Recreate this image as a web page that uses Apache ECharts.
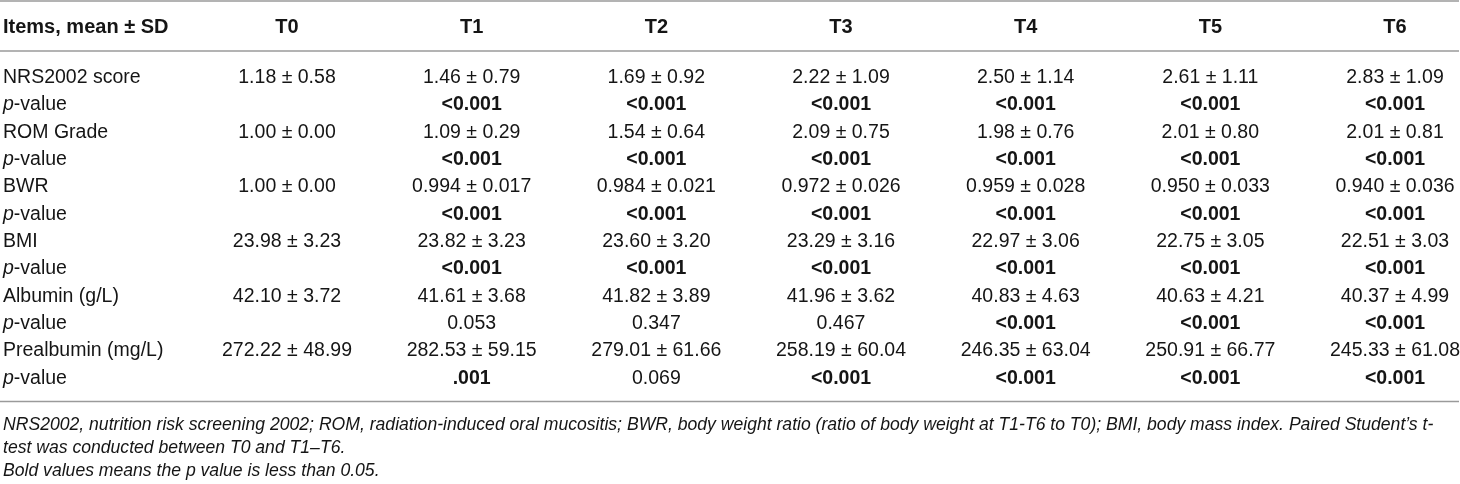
<!DOCTYPE html>
<html lang="en">
<head>
    <meta charset="utf-8" />
    <title>Nutrition indicators T0-T6</title>
    <script src="https://cdn.jsdelivr.net/npm/echarts@6/dist/echarts.min.js"></script>
    <style>
        html, body { margin: 0; padding: 0; background: #fff; }
        #main { width: 1460px; height: 484px; }
    </style>
</head>
<body>
<div id="main"></div>
<script type="text/javascript">
    // column headers and row labels
    var timePoints = ['T0', 'T1', 'T2', 'T3', 'T4', 'T5', 'T6'];
    var items = ['NRS2002 score', 'ROM Grade', 'BWR', 'BMI', 'Albumin (g/L)', 'Prealbumin (mg/L)'];

    // mean and SD per time point, as printed
    var nrsMean = ['1.18', '1.46', '1.69', '2.22', '2.50', '2.61', '2.83'];
    var nrsSd   = ['0.58', '0.79', '0.92', '1.09', '1.14', '1.11', '1.09'];
    var romMean = ['1.00', '1.09', '1.54', '2.09', '1.98', '2.01', '2.01'];
    var romSd   = ['0.00', '0.29', '0.64', '0.75', '0.76', '0.80', '0.81'];
    var bwrMean = ['1.00', '0.994', '0.984', '0.972', '0.959', '0.950', '0.940'];
    var bwrSd   = ['0.00', '0.017', '0.021', '0.026', '0.028', '0.033', '0.036'];
    var bmiMean = ['23.98', '23.82', '23.60', '23.29', '22.97', '22.75', '22.51'];
    var bmiSd   = ['3.23', '3.23', '3.20', '3.16', '3.06', '3.05', '3.03'];
    var albMean = ['42.10', '41.61', '41.82', '41.96', '40.83', '40.63', '40.37'];
    var albSd   = ['3.72', '3.68', '3.89', '3.62', '4.63', '4.21', '4.99'];
    var preMean = ['272.22', '282.53', '279.01', '258.19', '246.35', '250.91', '245.33'];
    var preSd   = ['48.99', '59.15', '61.66', '60.04', '63.04', '66.77', '61.08'];

    // p-values vs T0 (none for T0 itself)
    var nrsP = [null, '<0.001', '<0.001', '<0.001', '<0.001', '<0.001', '<0.001'];
    var romP = [null, '<0.001', '<0.001', '<0.001', '<0.001', '<0.001', '<0.001'];
    var bwrP = [null, '<0.001', '<0.001', '<0.001', '<0.001', '<0.001', '<0.001'];
    var bmiP = [null, '<0.001', '<0.001', '<0.001', '<0.001', '<0.001', '<0.001'];
    var albP = [null, '0.053', '0.347', '0.467', '<0.001', '<0.001', '<0.001'];
    var preP = [null, '.001', '0.069', '<0.001', '<0.001', '<0.001', '<0.001'];

    var footNotes = [
        'NRS2002, nutrition risk screening 2002; ROM, radiation-induced oral mucositis; BWR, body weight ratio (ratio of body weight at T1-T6 to T0); BMI, body mass index. Paired Student\u2019s t-',
        'test was conducted between T0 and T1\u2013T6.',
        'Bold values means the p value is less than 0.05.'
    ];

    var FONT = 'Liberation Sans, Arial, Helvetica, sans-serif';
    var INK = '#151515';
    var RULE = '#9a9a9a';
    var FS = 19.5;

    var means = [nrsMean, romMean, bwrMean, bmiMean, albMean, preMean];
    var sds = [nrsSd, romSd, bwrSd, bmiSd, albSd, preSd];
    var pvals = [nrsP, romP, bwrP, bmiP, albP, preP];

    // table rows: each item followed by its p-value row
    var rowNames = [];
    var cells = [];
    for (var r = 0; r < items.length; r++) {
        rowNames.push(items[r]);
        rowNames.push('p-value');
        for (var c = 0; c < timePoints.length; c++) {
            cells.push({ value: [c, r * 2], text: means[r][c] + ' \u00b1 ' + sds[r][c], bold: false });
            var p = pvals[r][c];
            if (p !== null) {
                var sig = p.charAt(0) === '<' || parseFloat(p) < 0.05;
                cells.push({ value: [c, r * 2 + 1], text: p, bold: sig });
            }
        }
    }

    var myChart = echarts.init(document.getElementById('main'));
    var option = {
        backgroundColor: '#fff',
        animation: false,
        title: [
            {
                text: 'Items, mean \u00b1 SD',
                left: 3,
                top: 17,
                padding: 0,
                textStyle: { fontFamily: FONT, fontSize: 20, fontWeight: 'bold', color: INK, lineHeight: 20 }
            },
            {
                text: footNotes.join('\n'),
                left: 3,
                top: 414,
                padding: 0,
                textStyle: { fontFamily: FONT, fontSize: 17.6, fontStyle: 'italic', fontWeight: 'normal', color: INK, lineHeight: 23 }
            }
        ],
        grid: { left: 287, right: 65, top: 64, bottom: 92 },
        xAxis: {
            type: 'category',
            position: 'top',
            boundaryGap: false,
            data: timePoints,
            axisLine: { show: false },
            axisTick: { show: false },
            splitLine: { show: false },
            axisLabel: {
                margin: 37,
                verticalAlign: 'middle',
                fontFamily: FONT,
                fontSize: 20,
                fontWeight: 'bold',
                color: INK
            }
        },
        yAxis: {
            type: 'category',
            inverse: true,
            data: rowNames,
            axisLine: { show: false },
            axisTick: { show: false },
            splitLine: { show: false },
            axisLabel: {
                align: 'left',
                margin: 284,
                fontFamily: FONT,
                fontSize: FS,
                color: INK,
                formatter: function (v) {
                    if (v === 'p-value') return '{i|p}-value';
                    return v;
                },
                rich: {
                    i: { fontFamily: FONT, fontSize: FS, fontStyle: 'italic', color: INK }
                }
            }
        },
        series: [
            {
                type: 'scatter',
                symbolSize: 0,
                itemStyle: { color: INK, opacity: 1 },
                emphasis: { disabled: true },
                data: cells,
                label: {
                    show: true,
                    position: 'inside',
                    fontFamily: FONT,
                    fontSize: FS,
                    color: INK,
                    opacity: 1,
                    formatter: function (p) {
                        return p.data.bold ? '{b|' + p.data.text + '}' : '{n|' + p.data.text + '}';
                    },
                    rich: {
                        n: { fontFamily: FONT, fontSize: FS, fontWeight: 'normal', color: INK },
                        b: { fontFamily: FONT, fontSize: FS, fontWeight: 'bold', color: INK }
                    }
                }
            }
        ],
        // table rules
        graphic: [
            { type: 'line', shape: { x1: 0, y1: 1, x2: 1459, y2: 1 }, style: { stroke: RULE, lineWidth: 1.5 } },
            { type: 'line', shape: { x1: 0, y1: 51, x2: 1459, y2: 51 }, style: { stroke: RULE, lineWidth: 1.5 } },
            { type: 'line', shape: { x1: 0, y1: 401.5, x2: 1459, y2: 401.5 }, style: { stroke: RULE, lineWidth: 1.5 } }
        ]
    };
    myChart.setOption(option);
</script>
</body>
</html>
